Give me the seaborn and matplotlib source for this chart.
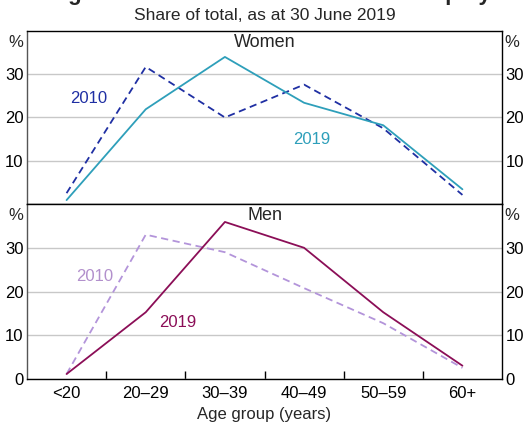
import matplotlib
matplotlib.use("Agg")
import matplotlib.pyplot as plt
import matplotlib.transforms as mtransforms
import seaborn as sns
import pandas as pd

# ---- data ----
age_groups = ["<20", "20–29", "30–39", "40–49", "50–59", "60+"]
women_2010 = [2.5, 31.7, 20.0, 27.6, 17.5, 2.1]
women_2019 = [0.9, 21.9, 34.0, 23.4, 18.2, 3.4]
men_2010 = [1.2, 33.0, 29.0, 20.8, 12.8, 2.6]
men_2019 = [1.2, 15.3, 35.9, 30.0, 15.3, 3.1]
y_ticks_top = [10, 20, 30]
y_ticks_bottom = [0, 10, 20, 30]

sns.set_theme(style="white")
plt.rcParams["font.family"] = ["Liberation Sans", "DejaVu Sans"]

C_W10 = "#1f2fa3"
C_W19 = "#2e9fba"
C_M10 = "#b394da"
C_M19 = "#8b0e57"

fig = plt.figure(figsize=(5.27, 4.28), dpi=100)
ax1 = fig.add_axes([0.0512, 0.5234, 0.9014, 0.4042])
ax2 = fig.add_axes([0.0512, 0.1138, 0.9014, 0.4096], sharex=ax1)

def df_of(vals):
    return pd.DataFrame({"age": age_groups, "share": vals})

lw = 1.3
sns.lineplot(data=df_of(women_2010), x="age", y="share", ax=ax1, color=C_W10,
             linewidth=lw, linestyle=(0, (4, 2.5)), sort=False)
sns.lineplot(data=df_of(women_2019), x="age", y="share", ax=ax1, color=C_W19,
             linewidth=lw, sort=False)
sns.lineplot(data=df_of(men_2010), x="age", y="share", ax=ax2, color=C_M10,
             linewidth=lw, linestyle=(0, (4, 2.5)), sort=False)
sns.lineplot(data=df_of(men_2019), x="age", y="share", ax=ax2, color=C_M19,
             linewidth=lw, sort=False)

for ax, ticks in ((ax1, y_ticks_top), (ax2, y_ticks_bottom)):
    ax.set_ylim(0, 40)
    ax.set_xlim(-0.5, len(age_groups) - 0.5)
    ax.set_yticks(ticks)
    ax.yaxis.grid(True, color="#c8c8c8", linewidth=1.0)
    ax.xaxis.grid(False)
    ax.set_axisbelow(True)
    ax.tick_params(axis="y", which="both", left=False, right=False, length=0,
                   labelleft=True, labelright=True, labelsize=12, pad=2.5,
                   colors="black")
    for s in ax.spines.values():
        s.set_visible(True)
        s.set_color("black")
        s.set_linewidth(1.0)
    ax.spines["left"].set_color("#555555")
    ax.set_ylabel("")
    ax.set_xlabel("")
    trans = mtransforms.blended_transform_factory(ax.transAxes, ax.transData)
    ax.text(-0.007, 37.3, "%", transform=trans, ha="right", va="center", fontsize=12)
    ax.text(1.005, 37.3, "%", transform=trans, ha="left", va="center", fontsize=12)

# x axis: labels on bottom only, boundary ticks inside
ax1.tick_params(axis="x", which="both", bottom=False, labelbottom=False, length=0)
ax2.set_xticks(range(len(age_groups)))
ax2.set_xticklabels(age_groups)
ax2.set_xticks([i + 0.5 for i in range(len(age_groups) - 1)], minor=True)
ax2.tick_params(axis="x", which="major", length=0, labelsize=12, pad=5, colors="black")
ax2.tick_params(axis="x", which="minor", bottom=True, direction="in", length=6,
                width=1, color="black")
ax2.set_xlabel("Age group (years)", fontsize=12, labelpad=4)

# panel titles
ax1.text(0.5, 0.985, "Women", transform=ax1.transAxes, ha="center", va="top", fontsize=13)
ax2.text(0.5, 0.985, "Men", transform=ax2.transAxes, ha="center", va="top", fontsize=13)

# series labels
ax1.text(0.28, 24.5, "2010", color=C_W10, fontsize=12, ha="center", va="center")
ax1.text(3.1, 14.8, "2019", color=C_W19, fontsize=12, ha="center", va="center")
ax2.text(0.36, 23.5, "2010", color="#b290cc", fontsize=12, ha="center", va="center")
ax2.text(1.4, 13.0, "2019", color=C_M19, fontsize=12, ha="center", va="center")

# titles
fig.text(0.55, 1.0, "Age Distribution of Reserve Bank Employees", ha="center",
         va="baseline", fontsize=16, fontweight="bold")
fig.text(0.503, 0.964, "Share of total, as at 30 June 2019", ha="center",
         va="center", fontsize=12.5)

fig.savefig("out.png", dpi=100)
